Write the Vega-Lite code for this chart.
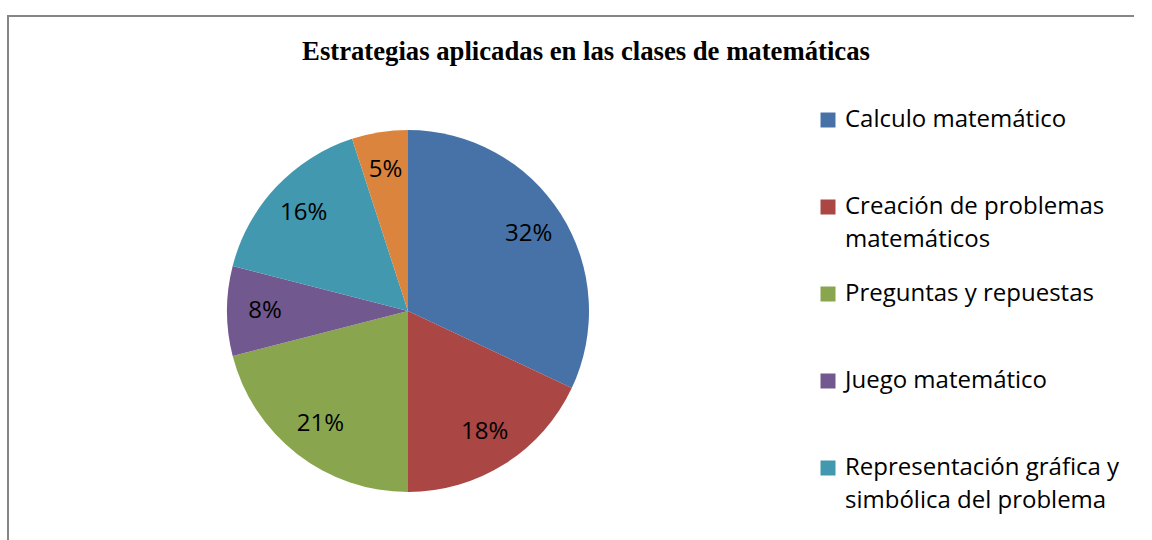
{
  "$schema": "https://vega.github.io/schema/vega-lite/v6.json",
  "width": 800,
  "height": 590,
  "autosize": {"type": "none"},
  "padding": {"left": 8, "top": 16, "right": 344, "bottom": -66},
  "background": "white",
  "view": {"stroke": "#868686", "strokeWidth": 2, "strokeDash": [800, 1390, 600], "fill": "white"},
  "config": {
    "font": "Open Sans"
  },
  "title": {
    "text": "Estrategias aplicadas en las clases de matemáticas",
    "font": "Liberation Serif",
    "fontSize": 26.7,
    "fontWeight": "bold",
    "color": "black",
    "anchor": "middle",
    "dx": 178,
    "offset": -51
  },
  "data": {
    "values": [
      {"estrategia": "Calculo matemático", "porcentaje": 0.32, "orden": 1},
      {"estrategia": "Creación de problemas matemáticos", "porcentaje": 0.18, "orden": 2},
      {"estrategia": "Preguntas y repuestas", "porcentaje": 0.21, "orden": 3},
      {"estrategia": "Juego matemático", "porcentaje": 0.08, "orden": 4},
      {"estrategia": "Representación gráfica y simbólica del problema", "porcentaje": 0.16, "orden": 5},
      {"estrategia": "Resolución de problemas", "porcentaje": 0.05, "orden": 6}
    ]
  },
  "encoding": {
    "theta": {"field": "porcentaje", "type": "quantitative", "stack": true},
    "order": {"field": "orden", "type": "quantitative"}
  },
  "layer": [
    {
      "mark": {"type": "arc", "outerRadius": 181},
      "encoding": {
        "color": {
          "field": "estrategia",
          "type": "nominal",
          "sort": null,
          "scale": {
            "domain": ["Calculo matemático", "Creación de problemas matemáticos", "Preguntas y repuestas", "Juego matemático", "Representación gráfica y simbólica del problema", "Resolución de problemas"],
            "range": ["#4672A8", "#AA4644", "#89A54E", "#71588F", "#4198AF", "#DB843D"]
          },
          "legend": {
            "orient": "none",
            "legendX": 716,
            "legendY": 0,
            "title": null,
            "padding": 92,
            "strokeColor": "#868686",
            "values": ["Calculo matemático", "Creación de problemas matemáticos", "Preguntas y repuestas", "Juego matemático", "Representación gráfica y simbólica del problema"],
            "symbolType": "square",
            "symbolSize": 225,
            "symbolStrokeWidth": 0,
            "symbolOpacity": 1,
            "labelFont": "Open Sans",
            "labelFontSize": 24,
            "labelColor": "black",
            "labelLimit": 500,
            "labelOffset": 5,
            "labelBaseline": "top",
            "gridAlign": "all",
            "rowPadding": 30,
            "labelExpr": "datum.label == 'Creación de problemas matemáticos' ? ['Creación de problemas', 'matemáticos'] : datum.label == 'Representación gráfica y simbólica del problema' ? ['Representación gráfica y', 'simbólica del problema'] : datum.label",
            "encode": {
              "legend": {"update": {"strokeWidth": {"value": 2}, "strokeDash": {"value": [410, 5000]}}},
              "labels": {"update": {"dy": {"value": -12}, "lineHeight": {"value": 33}}}
            }
          }
        }
      }
    },
    {
      "mark": {"type": "text", "radius": 143, "font": "Open Sans", "fontSize": 24, "color": "black"},
      "encoding": {
        "text": {"field": "porcentaje", "type": "quantitative", "format": ".0%"},
        "detail": {"field": "estrategia", "type": "nominal"}
      }
    }
  ]
}
